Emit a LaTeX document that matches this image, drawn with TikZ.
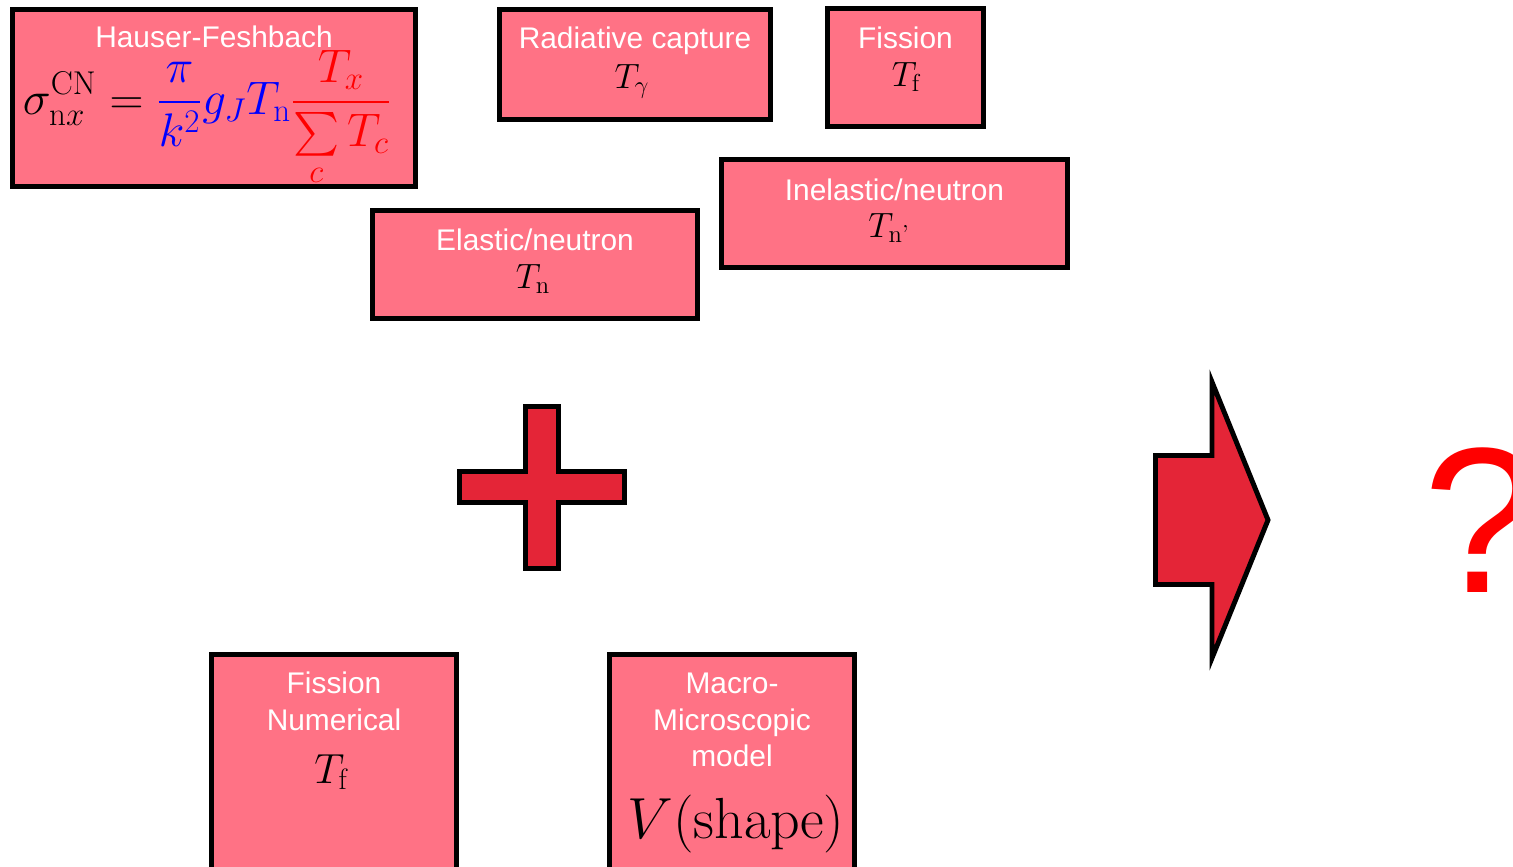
\RequirePackage{fix-cm}
\documentclass[tikz,border=0pt]{standalone}
\usepackage{fontspec}
\setsansfont{Liberation Sans}
\usepackage{amsmath}
\definecolor{boxpink}{RGB}{255,114,133}
\definecolor{plusred}{RGB}{228,37,55}

\begin{document}
\begin{tikzpicture}[x=0.02cm,y=-0.02cm,
  box/.style={draw, line width=2.8pt, fill=boxpink, inner sep=0pt},
  lbl/.style={text=white, font=\sffamily\fontsize{17}{20.5}\selectfont, align=center, anchor=base, inner sep=0pt},
  sym/.style={anchor=base, inner sep=0pt, font=\fontsize{20}{24}\selectfont},
  bigshape/.style={line width=2.8pt, fill=plusred, line join=miter}]
\useasboundingbox (0,0) rectangle (1513,866);

\node[box, minimum width=8.06cm, minimum height=3.54cm] (hf) at (214,98) {};
\node[box, minimum width=5.42cm, minimum height=2.2cm] (rad) at (635,64.5) {};
\node[box, minimum width=3.12cm, minimum height=2.36cm] (fis) at (905.5,67.5) {};
\node[box, minimum width=6.92cm, minimum height=2.16cm] (inel) at (894.5,213.5) {};
\node[box, minimum width=6.5cm, minimum height=2.16cm] (el) at (535,264.5) {};
\node[box, minimum width=4.9cm, minimum height=4.9cm] (fnum) at (334,777) {};
\node[box, minimum width=4.9cm, minimum height=4.9cm] (macro) at (732,777) {};

\node[lbl] (hflbl) at (214,47) {Hauser-Feshbach};
\node[lbl] (radlbl) at (635,48) {Radiative capture};
\node[lbl] (fislbl) at (905.5,48) {Fission};
\node[lbl] (inellbl) at (894.5,200) {Inelastic/neutron};
\node[lbl] (ellbl) at (535,250) {Elastic/neutron};
\node[lbl] (fnumlbl) at (334,730) {Fission\\Numerical};
\node[lbl] (macrolbl) at (732,766) {Macro-\\Microscopic\\model};

\node[sym, font=\fontsize{26.8}{32}\selectfont] (hfeq) at (207,114)
{$\displaystyle \sigma^{\mathrm{CN}}_{\mathrm{n}x} = {\color{blue}\frac{\pi}{k^2} g_J T_{\mathrm{n}}}
 {\color{red}\frac{T_x}{\sum\limits_c T_c}}$};

\node[sym] (tgam) at (632,88) {$T_\gamma$};
\node[sym] (tfis) at (906,86) {$T_{\mathrm f}$};
\node[sym] (tinel) at (889,237) {$T_{\text{n'}}$};
\node[sym] (tel) at (533,288) {$T_{\mathrm n}$};
\node[sym, font=\fontsize{24}{28}\selectfont] (tfnum) at (331,783) {$T_{\mathrm f}$};
\node[sym, font=\fontsize{33}{40}\selectfont] (vshape) at (736,838) {$V(\mathrm{shape})$};

\draw[bigshape] (525.5,406.5) -- (558.5,406.5) -- (558.5,471.5) -- (624.5,471.5)
  -- (624.5,502.5) -- (558.5,502.5) -- (558.5,568.5) -- (525.5,568.5)
  -- (525.5,502.5) -- (459.5,502.5) -- (459.5,471.5) -- (525.5,471.5) -- cycle;

\draw[bigshape] (1155.5,455.5) -- (1212,455.5) -- (1212,382) -- (1268,520)
  -- (1212,658) -- (1212,584.5) -- (1155.5,584.5) -- cycle;

\node[anchor=base west, inner sep=0pt, text=red, font=\sffamily\fontsize{118}{136}\selectfont] (qmark) at (1423,592) {?};
\end{tikzpicture}
\end{document}
